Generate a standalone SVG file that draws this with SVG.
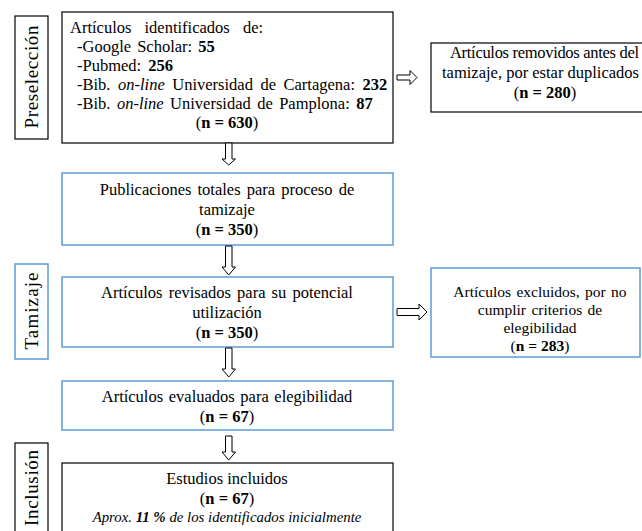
<svg xmlns="http://www.w3.org/2000/svg" width="642" height="531" viewBox="0 0 642 531">
<style>
text{font-family:"Liberation Serif","Times New Roman",serif;fill:#000;font-size:16.5px}
.c{text-anchor:middle}
.b{font-weight:bold}
.i{font-style:italic}
.bk{fill:#fff;stroke:#000;stroke-width:1.2}
.bl{fill:#fff;stroke:#5B9BD5;stroke-width:1.5}
.ar{fill:#fff;stroke:#000;stroke-width:1}
.lab{font-size:19px}
.s{font-size:15.5px}
.sm{font-size:14.8px}
</style>
<rect width="642" height="531" fill="#fff"/>
<g id="stage-preseleccion">
<rect class="bk" x="15" y="16" width="33" height="123"/>
<text class="lab c" transform="translate(38,77) rotate(-90)" textLength="103">Preselección</text>
</g>
<g id="stage-tamizaje">
<rect class="bl" x="15" y="264" width="33" height="95"/>
<text class="lab c" transform="translate(38,311) rotate(-90)" textLength="77">Tamizaje</text>
</g>
<g id="stage-inclusion">
<rect class="bk" x="15" y="443" width="33" height="100"/>
<text class="lab" transform="translate(38,526) rotate(-90)" textLength="76">Inclusión</text>
</g>
<g id="identificados">
<rect class="bk" x="62" y="12" width="331" height="131"/>
<text x="70" y="33" word-spacing="9">Artículos identificados de:</text>
<text x="77" y="52" word-spacing="2">-Google Scholar: <tspan class="b">55</tspan></text>
<text x="77" y="71" word-spacing="3">-Pubmed: <tspan class="b">256</tspan></text>
<text x="77" y="90" word-spacing="3.4">-Bib. <tspan class="i">on-line</tspan> Universidad de Cartagena: <tspan class="b">232</tspan></text>
<text x="77" y="109" word-spacing="2.3">-Bib. <tspan class="i">on-line</tspan> Universidad de Pamplona: <tspan class="b">87</tspan></text>
<text class="c" x="227" y="128">(<tspan class="b">n = 630</tspan>)</text>
</g>
<g id="duplicados">
<rect class="bk" x="431" y="43" width="240" height="69"/>
<text x="450" y="58" textLength="189">Artículos removidos antes del</text>
<text x="442" y="78" textLength="197">tamizaje, por estar duplicados</text>
<text class="c" x="545" y="98">(<tspan class="b">n = 280</tspan>)</text>
</g>
<g id="publicaciones">
<rect class="bl" x="62" y="173" width="331" height="72"/>
<text class="c" x="227" y="195" word-spacing="2">Publicaciones totales para proceso de</text>
<text class="c" x="227" y="215">tamizaje</text>
<text class="c" x="227" y="235">(<tspan class="b">n = 350</tspan>)</text>
</g>
<g id="revisados">
<rect class="bl" x="62" y="277" width="331" height="70"/>
<text class="c" x="227" y="298" word-spacing="2">Artículos revisados para su potencial</text>
<text class="c" x="227" y="318">utilización</text>
<text class="c" x="227" y="338">(<tspan class="b">n = 350</tspan>)</text>
</g>
<g id="excluidos">
<rect class="bl" x="431" y="268" width="209" height="89"/>
<text class="c s" x="540" y="297" word-spacing="1.5">Artículos excluidos, por no</text>
<text class="c s" x="540" y="315" word-spacing="1.5">cumplir criterios de</text>
<text class="c s" x="540" y="333">elegibilidad</text>
<text class="c s" x="540" y="351">(<tspan class="b">n = 283</tspan>)</text>
</g>
<g id="evaluados">
<rect class="bl" x="62" y="381" width="331" height="49"/>
<text class="c" x="227" y="402" word-spacing="1.5">Artículos evaluados para elegibilidad</text>
<text class="c" x="227" y="422">(<tspan class="b">n = 67</tspan>)</text>
</g>
<g id="incluidos">
<rect class="bk" x="62" y="463" width="331" height="80"/>
<text class="c" x="227" y="484">Estudios incluidos</text>
<text class="c" x="227" y="504">(<tspan class="b">n = 67</tspan>)</text>
<text class="c i sm" x="227" y="522">Aprox. <tspan class="b">11 %</tspan> de los identificados inicialmente</text>
</g>
<g id="connectors">
<path class="ar" d="M225.5,143 H232 V159 H235.5 L228.75,165 L222,159 H225.5 Z"/>
<path class="ar" d="M225.5,246 H232 V267 H235.5 L228.75,275 L222,267 H225.5 Z"/>
<path class="ar" d="M225.5,348 H232 V369 H235.5 L228.75,377 L222,369 H225.5 Z"/>
<path class="ar" d="M225.5,436 H232 V452 H235.5 L228.75,460 L222,452 H225.5 Z"/>
<path class="ar" d="M397,75 H410 V70.5 L417,77.5 L410,84.5 V80 H397 Z"/>
<path class="ar" d="M397,308.5 H419 V304 L427,312 L419,320 V315.5 H397 Z"/>
</g>
</svg>
